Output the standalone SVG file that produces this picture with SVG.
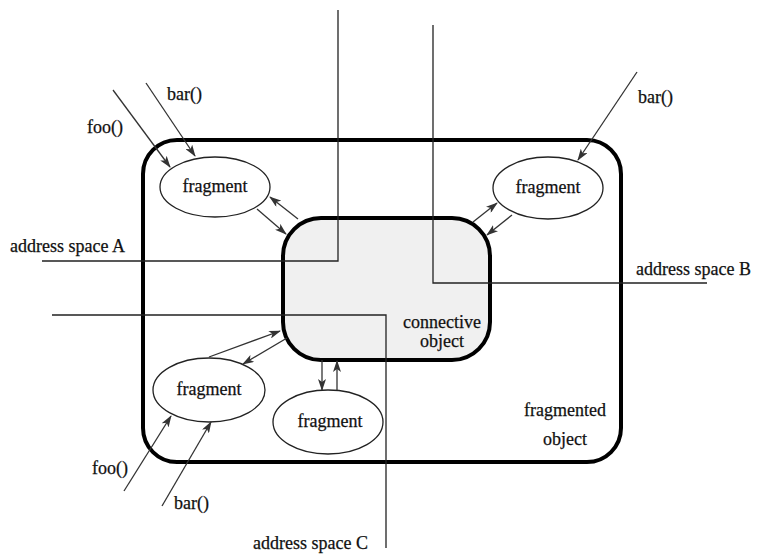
<svg xmlns="http://www.w3.org/2000/svg" width="757" height="555" viewBox="0 0 757 555">
<style>
text{font-family:"Liberation Serif","Times New Roman",serif;font-size:18px;fill:#111;stroke:#111;stroke-width:0.25}
.frag ellipse{fill:#fff;stroke:#222;stroke-width:1.3}
.arr{stroke:#333;stroke-width:1.3;fill:none;marker-end:url(#ah)}
.addr{stroke:#222;stroke-width:1.3;fill:none}
</style>
<defs>
<marker id="ah" viewBox="0 0 12 8" refX="11" refY="4" markerWidth="12" markerHeight="8" markerUnits="userSpaceOnUse" orient="auto">
<path d="M0,0 L12,4 L0,8 L3,4 z" fill="#333"/>
</marker>
</defs>
<rect width="757" height="555" fill="#fff"/>
<g id="fragmented-object">
<rect x="143" y="140" width="478" height="322" rx="34" ry="34" fill="none" stroke="#000" stroke-width="4"/>
<text x="565" y="416" text-anchor="middle">fragmented</text>
<text x="565" y="445" text-anchor="middle">object</text>
</g>
<g id="connective-object">
<rect x="283" y="218" width="207" height="142" rx="38" ry="38" fill="#f0f0f0" stroke="#000" stroke-width="4"/>
<text x="442" y="328" text-anchor="middle">connective</text>
<text x="442" y="347" text-anchor="middle">object</text>
</g>
<g id="address-space-A">
<polyline class="addr" points="338,10 338,261 42,261"/>
<text x="10" y="252">address space A</text>
</g>
<g id="address-space-B">
<polyline class="addr" points="433,25 433,283 707,283"/>
<text x="636" y="275">address space B</text>
</g>
<g id="address-space-C">
<polyline class="addr" points="52,315 386,315 386,548"/>
<text x="253" y="549">address space C</text>
</g>
<g id="fragment-tl" class="frag">
<ellipse cx="215" cy="187" rx="55" ry="30"/>
<text x="215" y="192" text-anchor="middle">fragment</text>
</g>
<g id="fragment-tr" class="frag">
<ellipse cx="548" cy="188" rx="55" ry="31"/>
<text x="548" y="193" text-anchor="middle">fragment</text>
</g>
<g id="fragment-bl" class="frag">
<ellipse cx="209" cy="390" rx="56" ry="32"/>
<text x="209" y="395" text-anchor="middle">fragment</text>
</g>
<g id="fragment-bm" class="frag">
<ellipse cx="328" cy="422" rx="55" ry="32"/>
<text x="330" y="427" text-anchor="middle">fragment</text>
</g>
<g id="labels">
<text x="87" y="133">foo()</text>
<text x="167" y="100">bar()</text>
<text x="638" y="103">bar()</text>
<text x="92" y="474">foo()</text>
<text x="174" y="509">bar()</text>
</g>
<g id="connectors">
<line class="arr" x1="113" y1="90" x2="170" y2="167"/>
<line class="arr" x1="146" y1="83" x2="195" y2="156"/>
<line class="arr" x1="637" y1="72" x2="578" y2="160"/>
<line class="arr" x1="124" y1="491" x2="171" y2="416"/>
<line class="arr" x1="162" y1="506" x2="211" y2="422"/>
<line class="arr" x1="257" y1="209" x2="286" y2="234"/>
<line class="arr" x1="298" y1="219" x2="270" y2="197"/>
<line class="arr" x1="473" y1="222" x2="497" y2="203"/>
<line class="arr" x1="512" y1="215" x2="487" y2="235"/>
<line class="arr" x1="209" y1="357" x2="280" y2="331"/>
<line class="arr" x1="287" y1="338" x2="243" y2="364"/>
<line class="arr" x1="322" y1="360" x2="322" y2="390"/>
<line class="arr" x1="337" y1="390" x2="337" y2="361"/>
</g>
</svg>
